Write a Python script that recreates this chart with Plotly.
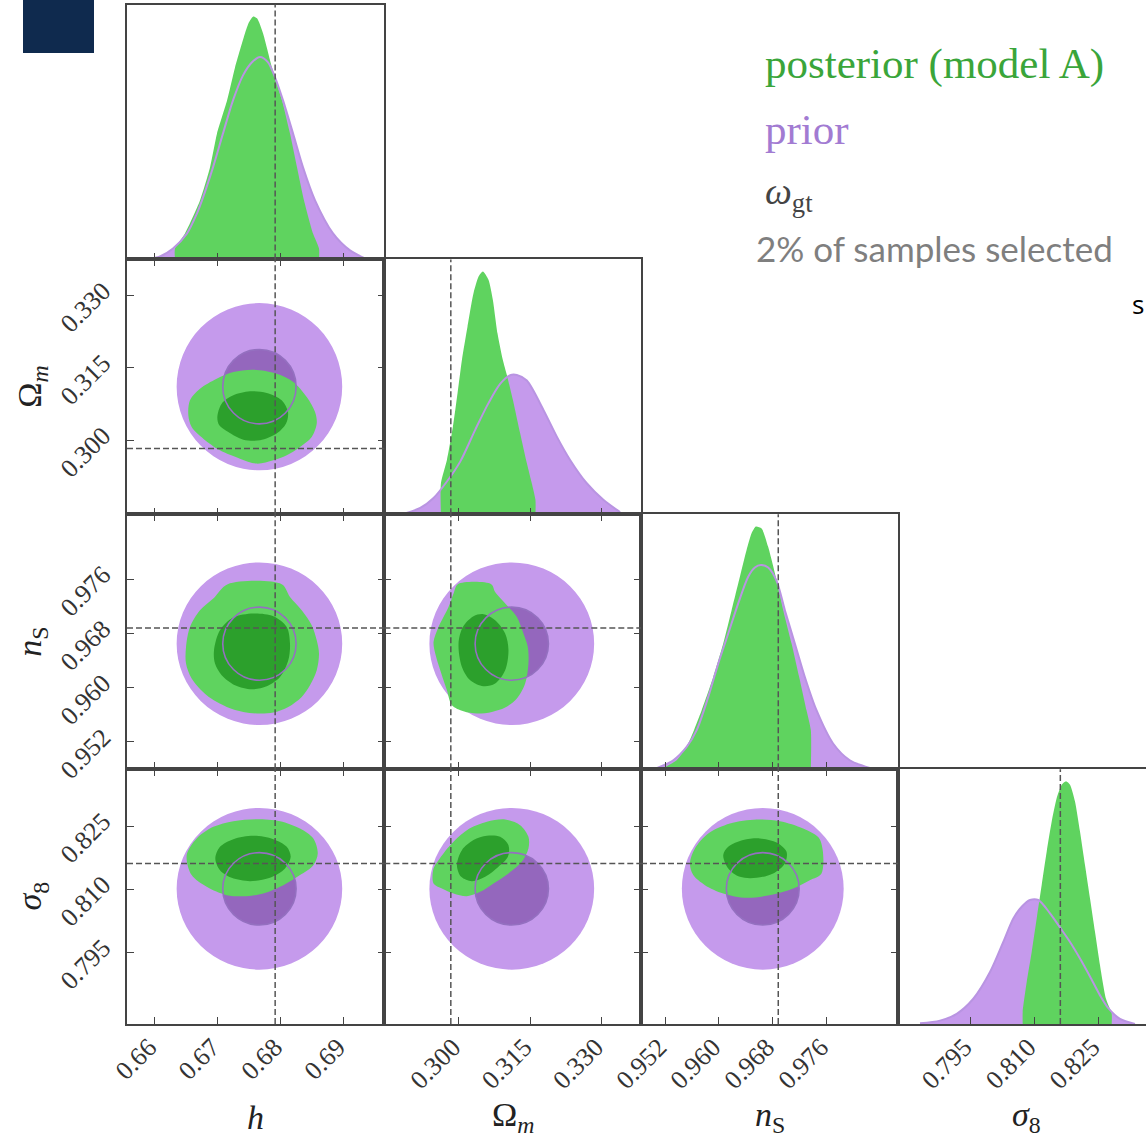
import plotly.graph_objects as go

# ---------------- data ----------------
param_labels = ["<i>h</i>", "Ω<sub><i>m</i></sub>", "<i>n</i><sub>S</sub>", "<i>σ</i><sub>8</sub>"]
tick_h = [0.66, 0.67, 0.68, 0.69]
tick_Om = [0.300, 0.315, 0.330]
tick_ns = [0.952, 0.960, 0.968, 0.976]
tick_s8 = [0.795, 0.810, 0.825]
truth = [0.6791, 0.2983, 0.9688, 0.8161]

prior_center = [0.6766, 0.3111, 0.9665, 0.8101]
prior_r95 = [0.01316, 0.0173, 0.0120, 0.0192]
prior_r68 = [0.00583, 0.0077, 0.0054, 0.0086]

# 1D marginals (normalised, posterior peak = 1)
h_post_x = [0.66318, 0.66318, 0.66477, 0.66715, 0.66874, 0.66986, 0.67145, 0.67272, 0.67431, 0.67494, 0.67558,
            0.67622, 0.67717, 0.67860, 0.68019, 0.68146, 0.68258, 0.68369, 0.68512, 0.68607, 0.68607]
h_post_y = [0, 0.045, 0.107, 0.243, 0.379, 0.519, 0.655, 0.791, 0.932, 0.977, 1.0,
            0.993, 0.932, 0.791, 0.655, 0.519, 0.379, 0.243, 0.107, 0.045, 0]
h_prior_x = [0.65873, 0.66079, 0.66286, 0.66509, 0.66668, 0.66747, 0.66922, 0.67081, 0.67240, 0.67399, 0.67542,
             0.67669, 0.67797, 0.67908, 0.68035, 0.68194, 0.68353, 0.68544, 0.68830, 0.69100, 0.69339]
h_prior_y = [0, 0.012, 0.045, 0.107, 0.190, 0.243, 0.379, 0.519, 0.655, 0.758, 0.812,
             0.834, 0.812, 0.750, 0.655, 0.519, 0.379, 0.243, 0.107, 0.037, 0.004]

Om_post_x = [0.29622, 0.29622, 0.29748, 0.29874, 0.29971, 0.30063, 0.30180, 0.30306, 0.30411, 0.30503,
             0.30621, 0.30713, 0.30810, 0.30923, 0.31007, 0.31133, 0.31286, 0.31426, 0.31607, 0.31607]
Om_post_y = [0, 0.128, 0.224, 0.362, 0.499, 0.636, 0.773, 0.911, 0.979, 1.0,
             0.966, 0.883, 0.746, 0.636, 0.574, 0.472, 0.334, 0.211, 0.060, 0]
Om_prior_x = [0.28838, 0.29188, 0.29467, 0.29748, 0.30027, 0.30342, 0.30621, 0.30866, 0.31076, 0.31217,
              0.31426, 0.31775, 0.32056, 0.32335, 0.32685, 0.33033, 0.33384]
Om_prior_y = [0.002, 0.026, 0.067, 0.135, 0.217, 0.348, 0.458, 0.537, 0.573, 0.574,
              0.551, 0.430, 0.320, 0.224, 0.128, 0.060, 0.009]

ns_post_x = [0.95175, 0.95373, 0.95545, 0.95744, 0.95916, 0.96064, 0.96188, 0.96311, 0.96410, 0.96484, 0.96548,
             0.96633, 0.96730, 0.96855, 0.96953, 0.97077, 0.97190, 0.97299, 0.97363, 0.97363]
ns_post_y = [0.005, 0.037, 0.106, 0.243, 0.380, 0.518, 0.655, 0.793, 0.903, 0.972, 1.0,
             0.992, 0.916, 0.779, 0.655, 0.518, 0.380, 0.243, 0.161, 0]
ns_prior_x = [0.95077, 0.95323, 0.95521, 0.95670, 0.95842, 0.95990, 0.96138, 0.96286, 0.96434, 0.96533,
              0.96622, 0.96730, 0.96855, 0.96978, 0.97126, 0.97274, 0.97447, 0.97693, 0.97941, 0.98237]
ns_prior_y = [0.004, 0.037, 0.092, 0.161, 0.298, 0.435, 0.559, 0.683, 0.793, 0.831,
              0.841, 0.831, 0.776, 0.655, 0.518, 0.380, 0.243, 0.106, 0.037, 0.005]

s8_post_x = [0.80728, 0.80728, 0.80822, 0.80939, 0.81056, 0.81173, 0.81290, 0.81408, 0.81525, 0.81642, 0.81743,
             0.81837, 0.81954, 0.82071, 0.82188, 0.82305, 0.82422, 0.82540, 0.82680, 0.82814, 0.82814]
s8_post_y = [0, 0.049, 0.173, 0.297, 0.435, 0.573, 0.710, 0.834, 0.931, 0.986, 1.0,
             0.986, 0.917, 0.793, 0.655, 0.518, 0.380, 0.242, 0.104, 0.042, 0]
s8_prior_x = [0.78321, 0.78790, 0.79181, 0.79570, 0.79962, 0.80273, 0.80508, 0.80705, 0.80899, 0.81094,
              0.81368, 0.81602, 0.81837, 0.82071, 0.82305, 0.82540, 0.82734, 0.83008, 0.83360]
s8_prior_y = [0.003, 0.014, 0.042, 0.104, 0.214, 0.338, 0.435, 0.483, 0.511, 0.511,
              0.456, 0.398, 0.338, 0.270, 0.196, 0.118, 0.065, 0.021, 0]

# 2D posterior contours (95% and 68%), x = column parameter, y = row parameter
p95_h_Om_x = [0.66530, 0.66556, 0.66715, 0.66981, 0.67245, 0.67563, 0.67934, 0.68199, 0.68412, 0.68544,
              0.68571, 0.68491, 0.68305, 0.68094, 0.67881, 0.67617, 0.67351, 0.67033, 0.66768, 0.66583]
p95_h_Om_y = [0.30517, 0.30828, 0.31070, 0.31277, 0.31413, 0.31462, 0.31380, 0.31207, 0.30896, 0.30586,
              0.30346, 0.30069, 0.29862, 0.29690, 0.29586, 0.29518, 0.29621, 0.29793, 0.30035, 0.30276]
p68_h_Om_x = [0.66991, 0.67060, 0.67245, 0.67510, 0.67776, 0.68014, 0.68114, 0.68083, 0.67934, 0.67669,
              0.67404, 0.67165, 0.67022]
p68_h_Om_y = [0.30482, 0.30759, 0.30931, 0.31014, 0.30979, 0.30828, 0.30586, 0.30346, 0.30139, 0.30000,
              0.30014, 0.30172, 0.30310]

p95_h_ns_x = [0.67156, 0.68014, 0.68146, 0.68332, 0.68491, 0.68571, 0.68607, 0.68571, 0.68464, 0.68332, 0.68119,
              0.67881, 0.67669, 0.67404, 0.67140, 0.66822, 0.66583, 0.66493, 0.66493, 0.66556, 0.66715, 0.66927]
p95_h_ns_y = [0.97528, 0.97528, 0.97340, 0.97144, 0.96922, 0.96701, 0.96505, 0.96258, 0.96037, 0.95864, 0.95717,
              0.95634, 0.95619, 0.95643, 0.95717, 0.95889, 0.96136, 0.96357, 0.96602, 0.96897, 0.97144, 0.97317]
p68_h_ns_x = [0.66938, 0.67033, 0.67245, 0.67563, 0.67881, 0.68094, 0.68146, 0.68119, 0.67987, 0.67776,
              0.67537, 0.67272, 0.67060, 0.66954]
p68_h_ns_y = [0.96553, 0.96849, 0.97036, 0.97095, 0.97055, 0.96897, 0.96652, 0.96406, 0.96159, 0.96022,
              0.95978, 0.96037, 0.96185, 0.96357]

p95_h_s8_x = [0.66504, 0.66663, 0.66927, 0.67245, 0.67617, 0.67987, 0.68305, 0.68517, 0.68587, 0.68517,
              0.68305, 0.68040, 0.67722, 0.67458, 0.67140, 0.66822, 0.66583]
p95_h_s8_y = [0.81810, 0.82206, 0.82481, 0.82617, 0.82664, 0.82617, 0.82443, 0.82206, 0.81850, 0.81572,
              0.81335, 0.81097, 0.80900, 0.80836, 0.80860, 0.81057, 0.81335]
p68_h_s8_x = [0.66959, 0.67033, 0.67245, 0.67563, 0.67881, 0.68094, 0.68157, 0.68067, 0.67828, 0.67510,
              0.67219, 0.67033]
p68_h_s8_y = [0.81731, 0.82007, 0.82189, 0.82268, 0.82189, 0.82007, 0.81769, 0.81494, 0.81271, 0.81192,
              0.81271, 0.81453]

p95_Om_ns_x = [0.29979, 0.30678, 0.30761, 0.31007, 0.31217, 0.31355, 0.31447, 0.31460, 0.31391, 0.31217, 0.30971,
               0.30692, 0.30378, 0.30096, 0.29853, 0.29748, 0.29608, 0.29503, 0.29467, 0.29572, 0.29782, 0.29887]
p95_Om_ns_y = [0.97528, 0.97528, 0.97414, 0.97218, 0.97045, 0.96800, 0.96602, 0.96357, 0.96062, 0.95841, 0.95708,
               0.95643, 0.95619, 0.95653, 0.95742, 0.95963, 0.96258, 0.96505, 0.96676, 0.96897, 0.97193, 0.97390]
p68_Om_ns_x = [0.29992, 0.30084, 0.30306, 0.30516, 0.30761, 0.30971, 0.31041, 0.30971, 0.30761, 0.30516,
               0.30237, 0.30063]
p68_Om_ns_y = [0.96652, 0.96897, 0.97055, 0.97085, 0.96996, 0.96800, 0.96553, 0.96258, 0.96062, 0.96022,
               0.96111, 0.96307]

p95_Om_s8_x = [0.29467, 0.29572, 0.29817, 0.30168, 0.30587, 0.30971, 0.31286, 0.31460, 0.31460, 0.31322,
               0.31041, 0.30726, 0.30447, 0.30168, 0.29887, 0.29643, 0.29467]
p95_Om_s8_y = [0.81494, 0.81691, 0.82047, 0.82403, 0.82600, 0.82657, 0.82522, 0.82244, 0.81969, 0.81650,
               0.81375, 0.81138, 0.80938, 0.80836, 0.80900, 0.81019, 0.81138]
p68_Om_s8_x = [0.29958, 0.30063, 0.30306, 0.30587, 0.30866, 0.31041, 0.31028, 0.30831, 0.30552, 0.30273, 0.30048]
p68_Om_s8_y = [0.81572, 0.81928, 0.82166, 0.82268, 0.82244, 0.82047, 0.81769, 0.81532, 0.81294, 0.81192, 0.81294]

p95_ns_s8_x = [0.95570, 0.95644, 0.95842, 0.96163, 0.96559, 0.96904, 0.97249, 0.97496, 0.97521, 0.97348,
               0.97101, 0.96804, 0.96410, 0.96064, 0.95793, 0.95619]
p95_ns_s8_y = [0.81613, 0.81969, 0.82325, 0.82562, 0.82657, 0.82617, 0.82443, 0.82189, 0.81375, 0.81216,
               0.81019, 0.80877, 0.80796, 0.80900, 0.81097, 0.81335]
p68_ns_s8_x = [0.96064, 0.96138, 0.96360, 0.96607, 0.96855, 0.97003, 0.96978, 0.96804, 0.96559, 0.96311, 0.96138]
p68_ns_s8_y = [0.81810, 0.82007, 0.82166, 0.82206, 0.82111, 0.81888, 0.81613, 0.81375, 0.81271, 0.81294, 0.81494]

legend_texts = ["posterior (model A)", "prior", "<i>ω</i><sub>gt</sub>", "2% of samples selected"]

# ---------------- styling ----------------
W, H = 1146, 1139
C_PRIOR95 = "#c59aec"
C_PRIOR68 = "#9467bd"
C_POST95 = "#5fd35f"
C_POST68 = "#2ca02c"
C_PRIOR_LINE1D = "#b994e2"
C_PRIOR_LINE2D = "#9470c0"
AX = "#444444"
SERIF = "Liberation Serif, DejaVu Serif, serif"

col_px = [(127, 384.3), (384.3, 641), (641, 898), (898, 1146)]
row_px = [(4.5, 259.4), (259.4, 514.3), (514.3, 769.2), (769.2, 1024)]
x_ranges = [[0.65555, 0.69645], [0.28433, 0.33824], [0.94844, 0.98656], [0.77805, 0.83618]]
y_ranges = [None, [0.28469, 0.33745], [0.94797, 0.98560], [0.7780, 0.8385]]
ticks = [tick_h, tick_Om, tick_ns, tick_s8]
fmts = [".2f", ".3f", ".3f", ".3f"]

marg_post = [(h_post_x, h_post_y), (Om_post_x, Om_post_y), (ns_post_x, ns_post_y), (s8_post_x, s8_post_y)]
marg_prior = [(h_prior_x, h_prior_y), (Om_prior_x, Om_prior_y), (ns_prior_x, ns_prior_y), (s8_prior_x, s8_prior_y)]
contours = {
    (1, 0): (p95_h_Om_x, p95_h_Om_y, p68_h_Om_x, p68_h_Om_y),
    (2, 0): (p95_h_ns_x, p95_h_ns_y, p68_h_ns_x, p68_h_ns_y),
    (3, 0): (p95_h_s8_x, p95_h_s8_y, p68_h_s8_x, p68_h_s8_y),
    (2, 1): (p95_Om_ns_x, p95_Om_ns_y, p68_Om_ns_x, p68_Om_ns_y),
    (3, 1): (p95_Om_s8_x, p95_Om_s8_y, p68_Om_s8_x, p68_Om_s8_y),
    (3, 2): (p95_ns_s8_x, p95_ns_s8_y, p68_ns_s8_x, p68_ns_s8_y),
}


def closed(a):
    return list(a) + [a[0]]


fig = go.Figure()
layout = {}
shapes = []
dash = dict(color="#555555", width=1.5, dash="6px,3px")
tickfont = dict(family=SERIF, size=26, color="#333333")
k = 0
for i in range(4):
    for j in range(i + 1):
        k += 1
        xr = "x" if k == 1 else f"x{k}"
        yr = "y" if k == 1 else f"y{k}"
        xkey = "xaxis" if k == 1 else f"xaxis{k}"
        ykey = "yaxis" if k == 1 else f"yaxis{k}"
        diag = i == j
        layout[xkey] = dict(
            domain=[col_px[j][0] / W, col_px[j][1] / W], range=x_ranges[j], anchor=yr, automargin=False,
            tickvals=ticks[j], tickformat=fmts[j], ticks="inside", ticklen=7, tickwidth=1, tickcolor=AX,
            showline=True, linecolor=AX, linewidth=1.5, mirror=True if diag else "ticks",
            showgrid=False, zeroline=False, showticklabels=(i == 3), tickangle=-45,
            tickfont=tickfont, ticklabelstandoff=-4, ticklabelshift=-6,
        )
        if diag:
            layout[ykey] = dict(
                domain=[1 - row_px[i][1] / H, 1 - row_px[i][0] / H], range=[0, 1.05], anchor=xr,
                automargin=False,
                showline=True, linecolor=AX, linewidth=1.5, mirror=(i != 3), ticks="",
                showticklabels=False, showgrid=False, zeroline=False,
            )
            px_, py_ = marg_prior[i]
            qx, qy = marg_post[i]
            fig.add_trace(go.Scatter(x=px_, y=py_, xaxis=xr, yaxis=yr, mode="lines", fill="tozeroy",
                                     fillcolor=C_PRIOR95, line=dict(width=0, color=C_PRIOR95, shape="spline", smoothing=0.8),
                                     hoverinfo="skip", showlegend=False))
            fig.add_trace(go.Scatter(x=qx, y=qy, xaxis=xr, yaxis=yr, mode="lines", fill="toself",
                                     fillcolor=C_POST95, line=dict(width=0, color=C_POST95, shape="spline", smoothing=0.6),
                                     hoverinfo="skip", showlegend=False))
            fig.add_trace(go.Scatter(x=px_, y=py_, xaxis=xr, yaxis=yr, mode="lines",
                                     line=dict(width=2, color=C_PRIOR_LINE1D, shape="spline", smoothing=0.8),
                                     hoverinfo="skip", showlegend=False))
            shapes.append(dict(type="line", xref=xr, yref=f"{yr} domain", x0=truth[j], x1=truth[j], y0=0, y1=1,
                               line=dash, layer="above"))
        else:
            layout[ykey] = dict(
                domain=[1 - row_px[i][1] / H, 1 - row_px[i][0] / H], range=y_ranges[i], anchor=xr,
                automargin=False,
                tickvals=ticks[i], tickformat=fmts[i], ticks="inside", ticklen=7, tickwidth=1, tickcolor=AX,
                showline=True, linecolor=AX, linewidth=1.5, mirror="ticks",
                showgrid=False, zeroline=False, showticklabels=(j == 0), tickangle=-45,
                tickfont=tickfont, ticklabelstandoff=17, ticklabelshift=-8,
            )
            for r, col in ((prior_r95, C_PRIOR95), (prior_r68, C_PRIOR68)):
                shapes.append(dict(type="circle", xref=xr, yref=yr,
                                   x0=prior_center[j] - r[j], x1=prior_center[j] + r[j],
                                   y0=prior_center[i] - r[i], y1=prior_center[i] + r[i],
                                   fillcolor=col, line=dict(width=0), layer="below"))
            shapes.append(dict(type="circle", xref=xr, yref=yr,
                               x0=prior_center[j] - prior_r68[j], x1=prior_center[j] + prior_r68[j],
                               y0=prior_center[i] - prior_r68[i], y1=prior_center[i] + prior_r68[i],
                               line=dict(width=1.6, color=C_PRIOR_LINE2D), layer="above"))
            cx95, cy95, cx68, cy68 = contours[(i, j)]
            for cx, cy, col in ((cx95, cy95, C_POST95), (cx68, cy68, C_POST68)):
                fig.add_trace(go.Scatter(x=closed(cx), y=closed(cy), xaxis=xr, yaxis=yr, mode="lines",
                                         fill="toself", fillcolor=col,
                                         line=dict(width=0, color=col, shape="spline", smoothing=0.9),
                                         hoverinfo="skip", showlegend=False))
            shapes.append(dict(type="line", xref=xr, yref=f"{yr} domain", x0=truth[j], x1=truth[j], y0=0, y1=1,
                               line=dash, layer="above"))
            shapes.append(dict(type="line", xref=f"{xr} domain", yref=yr, x0=0, x1=1, y0=truth[i], y1=truth[i],
                               line=dash, layer="above"))

# navy block (slide decoration)
shapes.append(dict(type="rect", xref="paper", yref="paper", x0=23 / W, x1=94 / W, y0=1 - 53 / H, y1=1,
                   fillcolor="#0f2a4e", line=dict(width=0), layer="above"))

annotations = []
for j in range(4):
    annotations.append(dict(text=param_labels[j], xref="paper", yref="paper",
                            x=(col_px[j][0] + 128.5) / W, y=1 - 1117 / H, showarrow=False,
                            font=dict(family=SERIF, size=34, color="#222222"), xanchor="center", yanchor="middle"))
for i in range(1, 4):
    annotations.append(dict(text=param_labels[i], xref="paper", yref="paper",
                            x=32 / W, y=1 - (row_px[i][0] + row_px[i][1]) / 2 / H, showarrow=False, textangle=-90,
                            font=dict(family=SERIF, size=34, color="#222222"), xanchor="center", yanchor="middle"))
leg_styles = [
    (legend_texts[0], 64, "#3aa53a", SERIF, 43, 763),
    (legend_texts[1], 129, "#a27bd2", SERIF, 43, 763),
    (legend_texts[2], 194, "#444444", SERIF, 38, 763),
    (legend_texts[3], 248, "#7f7f7f", "Lato, Open Sans, sans-serif", 35, 754),
]
for txt, yc, col, fam, size, xl in leg_styles:
    annotations.append(dict(text=txt, xref="paper", yref="paper", x=xl / W, y=1 - yc / H, showarrow=False,
                            xanchor="left", yanchor="middle", font=dict(family=fam, size=size, color=col)))
annotations.append(dict(text="s", xref="paper", yref="paper", x=1.0, y=1 - 304 / H, showarrow=False,
                        xanchor="right", yanchor="middle", font=dict(family="Open Sans, sans-serif", size=26, color="#000")))

fig.update_layout(template="none", width=W, height=H, margin=dict(l=0, r=0, t=0, b=0, pad=0), autosize=False,
                  paper_bgcolor="white", plot_bgcolor="white", shapes=shapes, annotations=annotations,
                  showlegend=False, **layout)
fig.write_html("out.html", config={"displayModeBar": False, "responsive": False},
               post_script="document.body.style.margin='0px';document.body.style.overflow='hidden';"
                           "document.documentElement.style.overflow='hidden';")
